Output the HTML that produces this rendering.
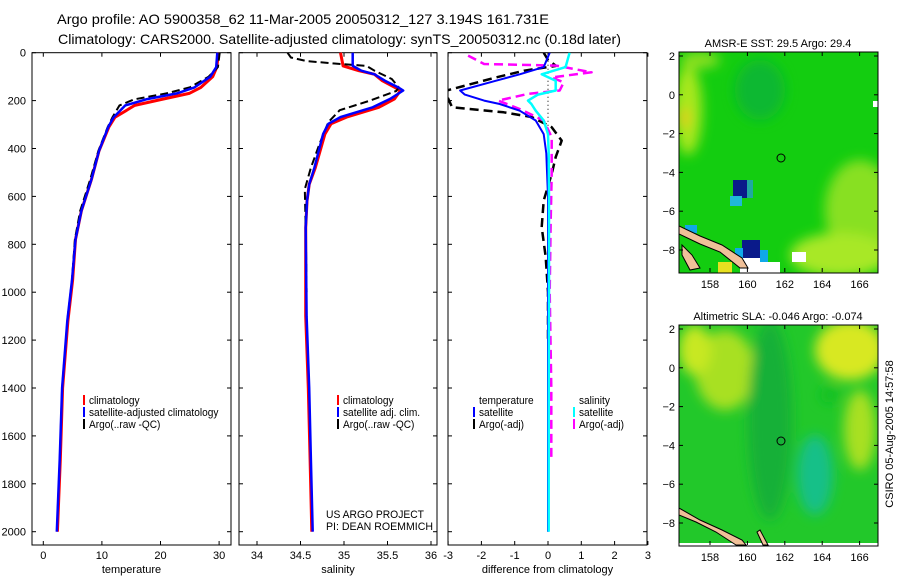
<!DOCTYPE html>
<html><head><meta charset="utf-8">
<style>
html,body{margin:0;padding:0;background:#fff;}
svg{display:block;font-family:"Liberation Sans",sans-serif;}
</style></head>
<body>
<svg id="fig" width="900" height="580" viewBox="0 0 900 580" xmlns="http://www.w3.org/2000/svg">
<text x="57" y="24" font-size="14" textLength="492" lengthAdjust="spacingAndGlyphs">Argo profile: AO 5900358_62 11-Mar-2005 20050312_127 3.194S 161.731E</text>
<text x="58" y="44" font-size="14" textLength="563" lengthAdjust="spacingAndGlyphs">Climatology: CARS2000. Satellite-adjusted climatology: synTS_20050312.nc (0.18d later)</text>

<g id="maps">
 <defs>
  <clipPath id="c1"><rect x="679" y="52" width="199" height="221"/></clipPath>
  <clipPath id="c2"><rect x="679" y="325" width="199" height="221"/></clipPath>
  <filter id="bl" x="-50%" y="-50%" width="200%" height="200%"><feGaussianBlur stdDeviation="6"/></filter>
 </defs>
 <g clip-path="url(#c1)">
  <rect x="679" y="52" width="199" height="221" fill="#13cd10"/>
  <g filter="url(#bl)">
   <ellipse cx="688" cy="110" rx="14" ry="45" fill="#a8e81a"/>
   <ellipse cx="684" cy="118" rx="5" ry="10" fill="#e8c820"/>
   <ellipse cx="860" cy="210" rx="35" ry="50" fill="#88e020"/>
   <ellipse cx="840" cy="255" rx="50" ry="22" fill="#a8e828"/>
   <ellipse cx="760" cy="90" rx="25" ry="30" fill="#10b830"/>
   <ellipse cx="700" cy="60" rx="20" ry="8" fill="#90e020"/>
  </g>
  <rect x="733" y="180" width="14" height="18" fill="#0a1a8a"/>
  <rect x="747" y="180" width="6" height="18" fill="#20a8a0"/>
  <rect x="730" y="196" width="12" height="10" fill="#20b8d8"/>
  <rect x="685" y="225" width="12" height="8" fill="#10a8e8"/>
  <rect x="742" y="240" width="18" height="18" fill="#0a1a8a"/>
  <rect x="735" y="248" width="8" height="12" fill="#10a8e8"/>
  <rect x="760" y="250" width="8" height="12" fill="#10a8e8"/>
  <rect x="718" y="262" width="14" height="11" fill="#e8e020"/>
  <rect x="740" y="258" width="20" height="15" fill="#ffffff"/>
  <rect x="760" y="262" width="20" height="11" fill="#ffffff"/>
  <rect x="792" y="252" width="14" height="10" fill="#ffffff"/>
  <rect x="873" y="101" width="5" height="6" fill="#ffffff"/>
  <path d="M679 226 L700 236 L722 245 L742 258 L748 268 L740 268 L720 252 L700 244 L679 234 Z" fill="#f0c098" stroke="#000" stroke-width="1"/>
  <path d="M682 245 L692 255 L700 268 L690 270 L682 255 Z" fill="#f0c098" stroke="#000" stroke-width="1"/>
  <circle cx="781" cy="158" r="4" fill="none" stroke="#000" stroke-width="1"/>
 </g>
 <rect x="679" y="52" width="199" height="221" fill="none" stroke="#000"/>
 <text x="778" y="47" font-size="11" text-anchor="middle">AMSR-E SST: 29.5 Argo: 29.4</text>

 <g clip-path="url(#c2)">
  <rect x="679" y="325" width="199" height="221" fill="#22c82a"/>
  <g filter="url(#bl)">
   <ellipse cx="850" cy="350" rx="35" ry="30" fill="#d8e820"/>
   <ellipse cx="860" cy="430" rx="16" ry="40" fill="#a8e020"/>
   <ellipse cx="725" cy="370" rx="30" ry="40" fill="#a8e020"/>
   <ellipse cx="695" cy="350" rx="16" ry="25" fill="#c8e820"/>
   <ellipse cx="770" cy="420" rx="22" ry="100" fill="#18b038"/>
   <ellipse cx="815" cy="475" rx="18" ry="40" fill="#18c088"/>
   <ellipse cx="830" cy="395" rx="10" ry="8" fill="#10c020"/>
  </g>
  <rect x="679" y="543" width="199" height="3" fill="#fff"/>
  <path d="M679 508 L700 520 L722 530 L742 540 L746 545 L736 545 L716 532 L696 522 L679 515 Z" fill="#f0c098" stroke="#000" stroke-width="1"/>
  <path d="M760 530 L768 545 L763 545 L757 532 Z" fill="#f0c098" stroke="#000" stroke-width="1"/>
  <circle cx="781" cy="441" r="4" fill="none" stroke="#000" stroke-width="1"/>
 </g>
 <rect x="679" y="325" width="199" height="221" fill="none" stroke="#000"/>
 <text x="778" y="320" font-size="11" text-anchor="middle">Altimetric SLA: -0.046 Argo: -0.074</text>
 <text transform="translate(893,434) rotate(-90)" font-size="11" text-anchor="middle">CSIRO 05-Aug-2005 14:57:58</text>
</g>

<g id="panels"></g>
</svg>
<script>
// ---- data ----
const depthT = [0,60,100,145,170,195,220,270,310,410,530,660,780,950,1120,1400,1700,2000];
const tempClim = [29.9,29.6,28.9,26.9,24.9,20.2,15.6,12.2,11.2,9.5,8.2,6.5,5.5,5.0,4.2,3.3,2.9,2.4];
const tempSat  = [29.7,29.5,28.5,25.8,22.8,17.5,14.0,12.0,11.1,9.5,8.2,6.5,5.5,4.9,4.1,3.2,2.8,2.3];
const depthA = [0,60,100,145,170,195,220,270,310,410,530,660,780,950,1120];
const tempArgo = [30.1,29.8,28.2,25.0,21.0,15.5,13.0,11.8,11.0,9.4,8.0,6.3,5.4,4.9,4.1];
const depthS = [0,55,75,90,117,144,158,193,228,269,297,340,480,550,620,730,1100,1400,1700,2000];
const salClim = [34.96,34.99,35.17,35.35,35.44,35.58,35.65,35.58,35.40,35.03,34.85,34.78,34.67,34.60,34.575,34.56,34.56,34.59,34.61,34.63];
const salSat  = [35.10,35.10,35.20,35.35,35.47,35.62,35.68,35.53,35.33,34.96,34.82,34.76,34.66,34.60,34.575,34.56,34.57,34.60,34.62,34.64];
const depthSA = [0,20,35,45,55,75,110,145,160,200,240,290,380,480,570,730,1000];
const salArgo = [34.35,34.39,34.57,34.89,35.26,35.35,35.55,35.63,35.60,35.30,34.95,34.82,34.72,34.62,34.55,34.56,34.57];
const depthD = [0,60,90,117,158,175,200,214,242,283,340,420,600,1000,1500,2000];
const dTsat  = [0.05,-0.13,-0.85,-1.56,-2.64,-2.5,-1.92,-1.45,-0.85,-0.37,-0.13,-0.05,0.0,0.0,0.0,0.0];
const dSsat  = [0.65,0.53,-0.19,0.23,0.23,-0.3,-0.6,-0.5,-0.37,-0.13,0.0,0.02,0.03,0.03,0.02,0.02];
const depthDA = [0,30,55,75,103,160,228,249,269,311,367,436,506,617,728,853,1000,1200];
const dTargo = [-0.13,0.0,0.24,-0.72,-1.56,-3.1,-2.88,-1.33,-0.48,0.11,0.41,0.23,0.11,-0.13,-0.19,-0.07,0.0,0.0];
const depthDM = [12,47,54,82,103,124,158,172,200,235,283,353,506,700,1000,1400,1700];
const dSargo = [-2.4,-1.92,0.24,1.31,0.11,0.47,0.35,-0.6,-1.5,-0.85,-0.13,0.11,0.11,0.08,0.05,0.1,0.1];
const depthTicks = [0,200,400,600,800,1000,1200,1400,1600,1800,2000];
const tempTicks = [0,10,20,30];
const salTicks = [34,34.5,35,35.5,36];
const diffTicks = [-3,-2,-1,0,1,2,3];

const NS = 'http://www.w3.org/2000/svg';
const root = document.getElementById('panels');
const TOP = 52.7, PXM = 479/2000, BOT = 545;
const yOf = d => TOP + d * PXM;
function mk(tag, attrs, parent){ const e = document.createElementNS(NS, tag); for (const k in attrs) e.setAttribute(k, attrs[k]); (parent||root).appendChild(e); return e; }
function squeeze(t, f){ const w = t.getComputedTextLength(); if (w > 0) { t.setAttribute('textLength', (w*f).toFixed(1)); t.setAttribute('lengthAdjust', 'spacingAndGlyphs'); } }

const panels = [
 {name:'temperature-panel', x0:32, x1:231, v0:0, px0:43.3, ppu:5.86, ticks:tempTicks, label:'temperature'},
 {name:'salinity-panel', x0:239, x1:437, v0:34, px0:257, ppu:87, ticks:salTicks, label:'salinity'},
 {name:'difference-panel', x0:448, x1:647, v0:0, px0:548, ppu:33.3, ticks:diffTicks, label:'difference from climatology'}
];
panels.forEach((p,i) => {
  p.xOf = v => p.px0 + (v - p.v0) * p.ppu;
  const g = mk('g', {});
  
  
  p.g = g;
  const fr = mk('rect', {x:p.x0, y:TOP, width:p.x1-p.x0, height:BOT-TOP, fill:'none', stroke:'#000', 'stroke-width':1}, g);
  
  
  depthTicks.forEach(d => {
    const y = yOf(d);
    mk('line', {x1:p.x0, x2:p.x0+4, y1:y, y2:y, stroke:'#000'}, g);
    mk('line', {x1:p.x1-4, x2:p.x1, y1:y, y2:y, stroke:'#000'}, g);
    if (i === 0) {
      const t = mk('text', {x:26, y:y+4, 'font-size':11, 'text-anchor':'end'}, g);
      
      
      t.textContent = d;
    }
  });
  p.ticks.forEach(v => {
    const x = p.xOf(v);
    mk('line', {x1:x, x2:x, y1:BOT, y2:BOT-4, stroke:'#000'}, g);
    mk('line', {x1:x, x2:x, y1:TOP, y2:TOP+4, stroke:'#000'}, g);
    const t = mk('text', {x:x, y:559, 'font-size':11, 'text-anchor':'middle'}, g);
    
    
    t.textContent = v;
  });
  const lab = mk('text', {x:(p.x0+p.x1)/2, y:573, 'font-size':11, 'text-anchor':'middle'}, g);
  
  
  lab.textContent = p.label;
});

function line(p, depths, vals, color, w, dash, name){
  const pts = depths.map((d,k) => p.xOf(vals[k]).toFixed(1)+','+yOf(d).toFixed(1)).join(' ');
  const a = {points:pts, fill:'none', stroke:color, 'stroke-width':w, 'stroke-linejoin':'round'};
  if (dash) a['stroke-dasharray'] = dash;
  const e = mk('polyline', a, p.g);
  
  
}
const cp = mk('clipPath', {id:'pc3'}); mk('rect', {x:448, y:TOP, width:199, height:BOT-TOP}, cp);
const P = panels;
line(P[0], depthT, tempClim, '#f00', 3, null, 'temp-climatology-line');
line(P[0], depthA, tempArgo, '#000', 2, '8,4', 'temp-argo-line');
line(P[0], depthT, tempSat, '#00f', 2.5, null, 'temp-satellite-line');
line(P[1], depthS, salClim, '#f00', 3, null, 'sal-climatology-line');
line(P[1], depthSA, salArgo, '#000', 2, '8,4', 'sal-argo-line');
line(P[1], depthS, salSat, '#00f', 2.5, null, 'sal-satellite-line');
mk('line', {x1:548, x2:548, y1:TOP, y2:yOf(500), stroke:'#000', 'stroke-dasharray':'1,3'}, P[2].g);
const cg = mk('g', {'clip-path':'url(#pc3)'}, P[2].g); P[2].g2 = P[2].g; P[2].g = cg;
line(P[2], depthDA, dTargo, '#000', 2.5, '9,5', 'diff-temp-argo-line');
line(P[2], depthDM, dSargo, '#f0f', 2.5, '9,5', 'diff-sal-argo-line');
line(P[2], depthD, dTsat, '#00f', 2, null, 'diff-temp-satellite-line');
line(P[2], depthD, dSsat, '#0ff', 2.5, null, 'diff-sal-satellite-line');

function legend(parent, x, y, color, text, name){
  const g = mk('g', {}, parent);
  
  
  mk('rect', {x:x, y:y-9, width:2, height:10, fill:color}, g);
  const t = mk('text', {x:x+6, y:y, 'font-size':11}, g);
  t.textContent = text;
  squeeze(t, 0.92);
}
legend(P[0].g, 83, 404, '#f00', 'climatology', 'legend-climatology');
legend(P[0].g, 83, 416, '#00f', 'satellite-adjusted climatology', 'legend-satellite');
legend(P[0].g, 83, 428, '#000', 'Argo(..raw -QC)', 'legend-argo');
legend(P[1].g, 337, 404, '#f00', 'climatology', 'legend-climatology');
legend(P[1].g, 337, 416, '#00f', 'satellite adj. clim.', 'legend-satellite');
legend(P[1].g, 337, 428, '#000', 'Argo(..raw -QC)', 'legend-argo');
const g3 = P[2].g2;
legend(g3, 473, 404, 'none', 'temperature', 'legend-temperature-heading');
legend(g3, 473, 416, '#00f', 'satellite', 'legend-temp-satellite');
legend(g3, 473, 428, '#000', 'Argo(-adj)', 'legend-temp-argo');
legend(g3, 573, 404, 'none', 'salinity', 'legend-salinity-heading');
legend(g3, 573, 416, '#0ff', 'satellite', 'legend-sal-satellite');
legend(g3, 573, 428, '#f0f', 'Argo(-adj)', 'legend-sal-argo');
const pr = mk('text', {x:326, y:518, 'font-size':11}, P[1].g);


pr.textContent = 'US ARGO PROJECT';
pr.setAttribute('textLength', '98');
pr.setAttribute('lengthAdjust', 'spacingAndGlyphs');
const pi = mk('text', {x:326, y:530, 'font-size':11}, P[1].g);


pi.textContent = 'PI: DEAN ROEMMICH';
pi.setAttribute('textLength', '107');
pi.setAttribute('lengthAdjust', 'spacingAndGlyphs');

// map axes
const latTicks = [2,0,-2,-4,-6,-8];
const lonTicks = [158,160,162,164,166];
const maps = [{top:52, lat2:56}, {top:325, lat2:329}];
const mg = document.getElementById('maps');
maps.forEach(m => {
  latTicks.forEach(l => {
    const y = m.lat2 + (2 - l) * 19.4;
    mk('line', {x1:679, x2:683, y1:y, y2:y, stroke:'#000'}, mg);
    mk('line', {x1:874, x2:878, y1:y, y2:y, stroke:'#000'}, mg);
    const t = mk('text', {x:675, y:y+4, 'font-size':11, 'text-anchor':'end'}, mg);
    
    
    t.textContent = l === 0 ? '0' : String(l).replace('-', '\u2212');
  });
  lonTicks.forEach(l => {
    const x = 710 + (l - 158) * 18.7;
    mk('line', {x1:x, x2:x, y1:m.top+220, y2:m.top+216, stroke:'#000'}, mg);
    mk('line', {x1:x, x2:x, y1:m.top, y2:m.top+4, stroke:'#000'}, mg);
    const t = mk('text', {x:x, y:m.top+236, 'font-size':11, 'text-anchor':'middle'}, mg);
    
    
    t.textContent = l;
  });
});
</script>
</body></html>
